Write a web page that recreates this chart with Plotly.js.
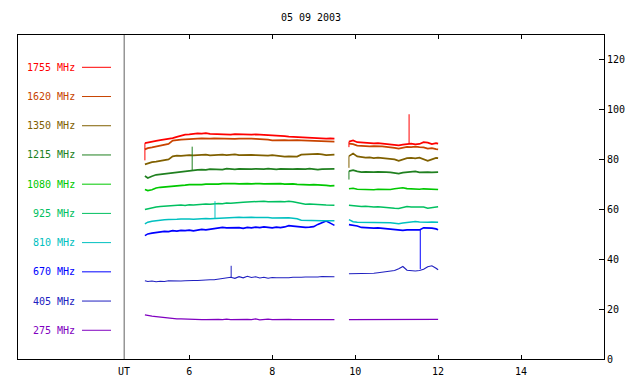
<!DOCTYPE html>
<html>
<head>
<meta charset="utf-8">
<script src="https://cdn.plot.ly/plotly-3.0.1.min.js"></script>
<style>html,body{margin:0;padding:0;background:#fff;}#chart{width:640px;height:384px;}</style>
</head>
<body>
<div id="chart"></div>
<script>
// ---- data ----
const chartTitle = '05 09 2003';
const t1 = [4.93,5.0,5.1,5.2,5.3,5.4,5.5,5.6,5.7,5.8,5.9,6.0,6.1,6.2,6.3,6.4,6.5,6.6,6.7,6.8,6.9,7.0,7.1,7.2,7.3,7.4,7.5,7.6,7.7,7.8,7.9,8.0,8.1,8.2,8.3,8.4,8.5,8.6,8.7,8.8,8.9,9.0,9.1,9.2,9.3,9.4,9.5];
const t2 = [9.85,9.95,10.05,10.15,10.25,10.35,10.45,10.55,10.65,10.75,10.85,10.95,11.05,11.15,11.25,11.35,11.45,11.55,11.65,11.75,11.85,11.95,12.0];
const freqs = ['1755','1620','1350','1215','1080','925','810','670','405','275'];

const s1755a = [86.6,86.9,87.3,87.5,87.8,88.0,88.2,88.6,89.1,89.6,90.0,90.1,90.3,90.5,90.4,90.6,90.3,90.2,90.4,90.1,90.2,90.0,90.2,90.1,90.1,90.2,90.0,90.1,89.9,90.0,89.8,89.7,89.7,89.5,89.4,89.2,89.1,89.0,88.8,88.6,88.5,88.4,88.5,88.3,88.4,88.5,88.4];
const s1755b = [87.2,87.7,87.0,86.8,86.6,86.7,86.5,86.6,86.4,86.3,86.2,85.9,85.7,86.0,86.2,86.4,86.1,86.3,87.0,86.8,86.2,86.6,86.4];
const s1620a = [84.1,84.6,84.9,85.3,85.8,86.0,86.3,87.6,87.9,88.0,88.1,88.3,88.2,88.4,88.5,88.3,88.4,88.5,88.4,88.3,88.5,88.4,88.3,88.4,88.5,88.3,88.4,88.3,88.2,88.3,88.0,87.7,87.8,87.9,87.8,87.7,87.9,87.8,87.7,87.6,87.5,87.4,87.5,87.3,87.4,87.2,87.2];
const s1620b = [86.4,86.2,85.6,85.4,85.5,85.3,85.4,85.2,85.3,85.1,85.0,84.7,84.4,84.7,85.1,85.0,85.2,85.0,84.9,84.4,84.6,84.2,84.1];
const s1350a = [78.1,78.5,79.0,79.2,79.5,79.8,80.1,81.3,81.6,81.5,81.7,81.8,81.7,81.9,81.8,82.0,81.7,81.9,81.8,82.0,81.8,81.9,82.1,81.8,81.9,81.7,81.9,81.8,81.7,81.9,81.6,81.8,81.5,81.4,81.2,81.3,81.2,81.2,82.0,82.1,82.0,82.2,82.3,82.1,81.8,81.9,82.0];
const s1350b = [81.4,82.4,81.3,81.0,80.8,80.9,80.6,80.8,80.6,80.7,80.5,80.1,79.5,80.0,80.6,80.7,80.5,80.8,80.2,79.5,80.1,80.7,80.6];
const s1215a = [73.4,72.6,73.3,73.9,74.1,74.3,74.6,75.0,75.1,75.4,75.5,75.7,75.8,75.9,76.0,75.9,76.2,76.1,76.3,76.0,76.4,76.2,76.1,76.3,76.2,76.0,76.2,76.3,76.1,76.2,76.4,76.2,76.1,76.3,76.2,76.0,76.2,76.3,76.1,76.2,76.4,76.2,76.0,76.2,76.3,76.2,76.3];
const s1215b = [75.4,75.8,75.3,75.0,75.1,74.9,75.0,75.1,74.9,75.0,74.9,74.7,74.4,74.8,75.0,75.2,75.3,74.9,75.1,75.0,74.9,75.0,75.0];
const s1080a = [68.0,67.6,67.9,68.6,68.9,69.0,69.1,69.3,69.4,69.6,69.8,70.0,69.9,70.1,70.0,70.2,70.1,70.3,70.2,70.4,70.3,70.5,70.4,70.3,70.5,70.4,70.3,70.5,70.4,70.3,70.4,70.5,70.3,70.4,70.2,70.4,70.3,70.1,70.0,70.1,69.9,70.0,69.8,69.9,69.7,69.5,69.6];
const s1080b = [68.3,68.5,68.1,68.0,67.8,68.0,67.9,68.1,68.0,68.2,68.0,68.3,68.6,68.7,68.4,68.2,68.3,68.1,68.3,68.2,68.4,68.1,68.0];
const s925a = [60.0,60.3,60.8,61.0,61.2,61.3,61.5,61.7,61.6,61.8,61.6,61.9,61.8,62.0,61.9,62.2,62.1,62.3,62.4,62.3,62.6,62.5,62.7,63.0,62.9,63.0,63.1,63.0,63.2,63.3,63.1,63.2,63.4,63.2,63.1,63.3,63.1,62.8,62.2,62.1,62.2,62.0,62.1,61.9,61.8,61.7,61.7];
const s925b = [61.7,61.5,61.3,61.2,61.3,61.1,61.0,61.1,60.9,60.8,60.6,60.5,60.4,60.7,61.2,61.0,61.1,60.9,61.0,60.5,60.7,61.0,61.1];
const s810a = [54.2,54.9,55.3,55.6,55.7,55.9,56.0,56.2,56.1,56.2,56.3,56.2,56.1,56.3,56.2,56.4,56.3,56.4,56.5,56.4,56.6,56.7,56.8,56.9,56.8,57.0,56.9,56.8,56.9,56.7,56.8,56.6,56.7,56.8,56.6,56.7,56.5,56.3,55.7,55.6,55.6,55.5,55.6,55.5,55.5,55.6,55.5];
const s810b = [55.9,55.1,54.9,54.9,55.0,54.8,54.9,54.9,54.8,54.9,54.7,54.5,54.3,54.6,54.9,55.1,55.2,55.0,54.8,54.9,55.0,54.9,54.9];
const s670a = [49.5,50.2,50.5,50.8,51.0,51.2,51.1,51.5,51.3,51.6,51.5,51.7,51.4,51.8,52.0,51.8,52.1,52.3,52.5,52.8,52.6,52.7,52.5,52.7,52.4,52.8,52.6,52.9,52.7,53.0,52.8,52.6,52.9,52.7,53.0,53.5,53.3,53.1,53.0,52.8,52.9,53.1,54.0,54.8,55.4,54.5,53.6];
const s670b = [53.9,53.7,53.4,52.8,52.6,52.7,52.5,52.6,52.4,52.3,52.2,52.0,51.7,51.6,51.8,51.7,51.6,51.8,52.6,52.7,52.5,52.2,51.9];
const s405a = [31.4,31.1,31.3,31.0,31.2,31.1,31.4,31.3,31.5,31.3,31.4,31.6,31.5,31.5,31.7,31.6,31.8,31.8,32.0,32.2,32.5,32.8,32.4,33.0,32.6,33.2,32.7,33.0,32.5,32.8,32.4,32.7,32.6,32.5,32.7,32.6,32.8,32.7,32.8,32.9,32.8,33.0,32.9,33.1,33.0,33.2,33.0];
const s405b = [34.2,34.2,34.3,34.2,34.4,34.3,34.4,34.6,34.8,35.0,35.1,35.5,36.2,37.1,35.6,35.4,35.3,35.5,36.0,37.0,37.4,36.4,35.8];
const s275a = [17.7,17.4,17.2,17.0,16.8,16.7,16.5,16.3,16.1,16.1,16.0,15.9,15.8,15.9,15.8,15.8,15.9,15.8,15.9,15.8,16.0,15.8,15.9,15.8,16.0,15.9,15.8,16.1,15.7,15.9,16.0,15.8,15.9,15.8,15.8,15.9,15.8,15.8,15.9,15.8,15.8,15.9,15.8,15.8,15.9,15.8,15.8];
const s275b = [15.8,15.8,15.8,15.9,15.8,15.8,15.8,15.9,15.8,15.8,15.8,15.7,15.6,15.8,15.8,15.9,15.8,15.8,15.8,15.8,15.9,15.8,15.9];

// short vertical excursions (spikes / segment start drops)
const spikeFreq = ['1215','810','405','1755','670','1755','1755','1350','1215'];
const spikeTime = [6.07,6.62,7.01,11.30,11.57,4.93,9.85,9.85,9.85];
const spikeLow  = [75.8,56.4,32.8,86.2,36.1,79.7,85.0,76.7,72.0];
const spikeHigh = [85.2,63.3,37.4,98.2,51.8,86.6,87.2,81.4,75.4];

const xTickVals = [6,8,10,12,14];
const yTickVals = [0,20,40,60,80,100,120];
const utTime = 4.43;
const utLabel = 'UT';

// ---- styles ----
const colors = {
  '1755':'#ff0000','1620':'#c84400','1350':'#806000','1215':'#208020','1080':'#00c800',
  '925':'#00c060','810':'#00c0c0','670':'#0000ff','405':'#2020c0','275':'#8000c0'
};
const widths = {'1755':1.7,'1620':1.7,'1350':1.7,'1215':1.7,'1080':1.7,'925':1.5,'810':1.5,'670':1.6,'405':1.2,'275':1.2};
const seriesA = {'1755':s1755a,'1620':s1620a,'1350':s1350a,'1215':s1215a,'1080':s1080a,'925':s925a,'810':s810a,'670':s670a,'405':s405a,'275':s275a};
const seriesB = {'1755':s1755b,'1620':s1620b,'1350':s1350b,'1215':s1215b,'1080':s1080b,'925':s925b,'810':s810b,'670':s670b,'405':s405b,'275':s275b};
const FONT = 'DejaVu Sans Mono, Liberation Mono, monospace';

const traces = [];
freqs.slice().reverse().forEach(f => {
  traces.push({
    type:'scatter', mode:'lines', hoverinfo:'skip', showlegend:false,
    x: t1.concat([null], t2),
    y: seriesA[f].concat([null], seriesB[f]),
    line:{color:colors[f], width:widths[f]}
  });
});
spikeFreq.forEach((f,i) => {
  traces.push({
    type:'scatter', mode:'lines', hoverinfo:'skip', showlegend:false,
    x:[spikeTime[i], spikeTime[i]], y:[spikeLow[i], spikeHigh[i]],
    line:{color:colors[f], width:1}
  });
});

// legend drawn inside the plot area (left panel)
const L = 18, R = 604, T = 35, B = 359;
const px2paperX = p => (p - L) / (R - L);
const px2paperY = p => (B - p) / (B - T);
const annotations = [];
const shapes = [];
freqs.forEach((f,i) => {
  const yPx = 67.3 + i * 29.22;
  annotations.push({
    xref:'paper', yref:'paper', x:px2paperX(76.5), y:px2paperY(yPx),
    xanchor:'right', yanchor:'middle', showarrow:false,
    text: f + ' MHz', font:{family:FONT, size:10, color:colors[f]}
  });
  shapes.push({
    type:'line', xref:'paper', yref:'paper',
    x0:px2paperX(82), x1:px2paperX(111), y0:px2paperY(yPx), y1:px2paperY(yPx),
    line:{color:colors[f], width:1}
  });
});
shapes.push({type:'line', xref:'x', yref:'paper', x0:utTime, x1:utTime, y0:0, y1:1,
  line:{color:'#606060', width:1}});
annotations.push({xref:'x', yref:'paper', x:utTime, y:0, yanchor:'top', yshift:-5,
  showarrow:false, text:utLabel, font:{family:FONT, size:10, color:'#000'}});

const layout = {
  width:640, height:384, autosize:false,
  paper_bgcolor:'#fff', plot_bgcolor:'#fff',
  margin:{l:L, r:640-R, t:T, b:384-B, pad:0},
  title:{text:chartTitle, x:0.486, xanchor:'center', y:1-17/384, yanchor:'middle',
    font:{family:FONT, size:10, color:'#000'}},
  font:{family:FONT, size:10, color:'#000'},
  showlegend:false,
  xaxis:{range:[1.87,16], tickvals:xTickVals, ticks:'inside', ticklen:4, tickcolor:'#000',
    ticklabelstandoff:3,
    showline:true, linecolor:'#000', linewidth:1, mirror:'ticks', showgrid:false, zeroline:false,
    tickfont:{family:FONT, size:10, color:'#000'}, fixedrange:true},
  yaxis:{range:[0,130], side:'right', tickvals:yTickVals, ticks:'inside', ticklen:5, tickcolor:'#000',
    showline:true, linecolor:'#000', linewidth:1, mirror:true, showgrid:false, zeroline:false,
    tickfont:{family:FONT, size:10, color:'#000'}, fixedrange:true},
  shapes:shapes, annotations:annotations
};
Plotly.newPlot('chart', traces, layout, {displayModeBar:false, staticPlot:true});
</script>
</body>
</html>
